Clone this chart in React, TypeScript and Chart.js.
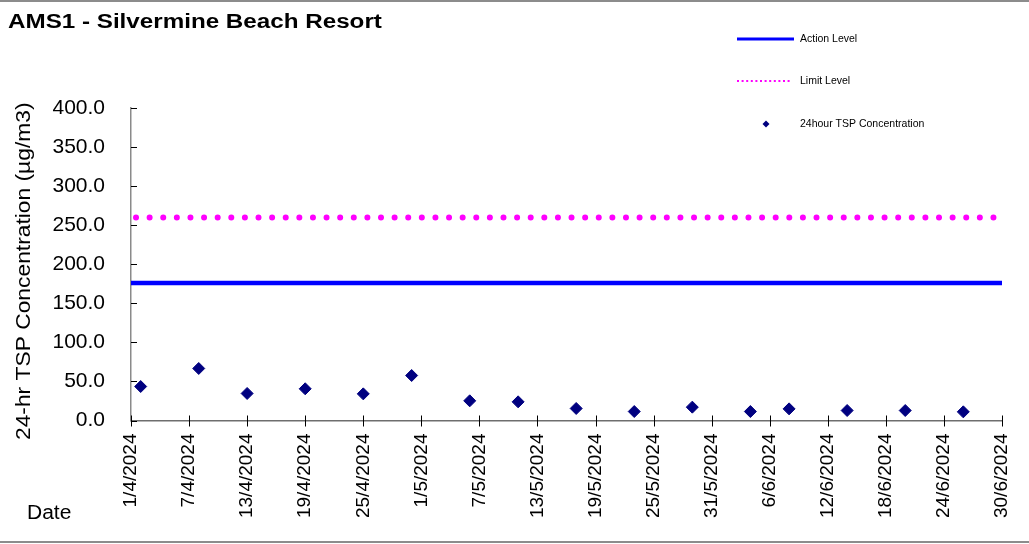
import React, { useEffect, useRef } from "react";
import { Chart, registerables } from "chart.js";

Chart.register(...registerables);

const chartTitle = "AMS1 - Silvermine Beach Resort";
const yAxisTitle = "24-hr TSP Concentration (µg/m3)";
const xAxisTitle = "Date";

const startDate = "1/4/2024";
const endDate = "30/6/2024";
const tickLabels = [
  "1/4/2024", "7/4/2024", "13/4/2024", "19/4/2024", "25/4/2024", "1/5/2024",
  "7/5/2024", "13/5/2024", "19/5/2024", "25/5/2024", "31/5/2024", "6/6/2024",
  "12/6/2024", "18/6/2024", "24/6/2024", "30/6/2024",
];
const sampleDates = [
  "2/4/2024", "8/4/2024", "13/4/2024", "19/4/2024", "25/4/2024", "30/4/2024",
  "6/5/2024", "11/5/2024", "17/5/2024", "23/5/2024", "29/5/2024", "4/6/2024",
  "8/6/2024", "14/6/2024", "20/6/2024", "26/6/2024",
];
const tspValues = [
  43.5, 66.6, 34.6, 40.6, 34.1, 57.6, 25.2, 23.9, 15.4, 11.5, 17.1, 11.5, 14.9,
  12.8, 12.8, 11.1,
];
const actionLevel = 176;
const limitLevel = 260;
const yTicks = [0, 50, 100, 150, 200, 250, 300, 350, 400];

const dayOffset = (s: string) => {
  const [d, m, y] = s.split("/").map(Number);
  const [d0, m0, y0] = startDate.split("/").map(Number);
  return Math.round((Date.UTC(y, m - 1, d) - Date.UTC(y0, m0 - 1, d0)) / 86400000);
};

const FONT = "'Liberation Sans', Arial, sans-serif";

const decorPlugin = {
  id: "decor",
  afterDraw(chart: any) {
    const ctx = chart.ctx as CanvasRenderingContext2D;
    const xs = chart.scales.x;
    const ys = chart.scales.y;
    const area = chart.chartArea;
    ctx.save();
    ctx.fillStyle = "#8c8c8c";
    ctx.fillRect(0, 0, chart.width, 2);
    ctx.fillRect(0, 541, chart.width, 2);
    ctx.fillStyle = "#000";
    ctx.save();
    ctx.translate(8, 28);
    ctx.scale(1.21, 1);
    ctx.font = `bold 20px ${FONT}`;
    ctx.textBaseline = "alphabetic";
    ctx.textAlign = "left";
    ctx.fillText(chartTitle, 0, 0);
    ctx.restore();
    ctx.save();
    ctx.translate(27, 519);
    ctx.scale(1.05, 1);
    ctx.font = `20px ${FONT}`;
    ctx.textAlign = "left";
    ctx.fillText(xAxisTitle, 0, 0);
    ctx.restore();
    ctx.save();
    ctx.translate(24, (area.top + area.bottom) / 2 + 7);
    ctx.rotate(-Math.PI / 2);
    ctx.scale(1.14, 1);
    ctx.textAlign = "center";
    ctx.textBaseline = "middle";
    ctx.font = `20px ${FONT}`;
    ctx.fillText(yAxisTitle, 0, 0);
    ctx.restore();
    ctx.strokeStyle = "#000";
    ctx.lineWidth = 1;
    xs.ticks.forEach((t: any) => {
      const px = Math.round(xs.getPixelForValue(t.value)) + 0.5;
      ctx.beginPath();
      ctx.moveTo(px, area.bottom - 5);
      ctx.lineTo(px, area.bottom + 6);
      ctx.stroke();
    });
    ys.ticks.forEach((t: any) => {
      const py = Math.round(ys.getPixelForValue(t.value)) + 0.5;
      ctx.beginPath();
      ctx.moveTo(area.left, py);
      ctx.lineTo(area.left + 6, py);
      ctx.stroke();
    });
    const ds = chart.data.datasets;
    ctx.font = `10.5px ${FONT}`;
    ctx.textAlign = "left";
    ctx.textBaseline = "middle";
    ctx.fillStyle = "#000";
    ctx.strokeStyle = ds[1].borderColor;
    ctx.lineWidth = 3;
    ctx.beginPath();
    ctx.moveTo(737, 39);
    ctx.lineTo(794, 39);
    ctx.stroke();
    ctx.fillText(ds[1].label, 800, 39.5);
    ctx.strokeStyle = ds[2].borderColor;
    ctx.lineWidth = 2;
    ctx.setLineDash([2, 2.6]);
    ctx.beginPath();
    ctx.moveTo(737, 81);
    ctx.lineTo(792, 81);
    ctx.stroke();
    ctx.setLineDash([]);
    ctx.fillText(ds[2].label, 800, 81.5);
    ctx.fillStyle = ds[0].backgroundColor;
    ctx.beginPath();
    ctx.moveTo(766, 120.5);
    ctx.lineTo(769.5, 124);
    ctx.lineTo(766, 127.5);
    ctx.lineTo(762.5, 124);
    ctx.closePath();
    ctx.fill();
    ctx.fillStyle = "#000";
    ctx.fillText(ds[0].label, 800, 124.5);
    ctx.restore();
  },
};

export default function App() {
  const ref = useRef<HTMLCanvasElement | null>(null);
  useEffect(() => {
    if (!ref.current) return;
    const xMax = dayOffset(endDate);
    const chart = new Chart(ref.current, {
      type: "scatter",
      data: {
        datasets: [
          {
            label: "24hour TSP Concentration",
            data: sampleDates.map((d, i) => ({ x: dayOffset(d), y: tspValues[i] })),
            pointStyle: "rectRot",
            pointRadius: 6,
            backgroundColor: "#000080",
            borderColor: "#000080",
            borderWidth: 1,
            showLine: false,
            order: 0,
          },
          {
            label: "Action Level",
            type: "line",
            data: [
              { x: 0, y: actionLevel },
              { x: xMax, y: actionLevel },
            ],
            borderColor: "#0000ff",
            borderWidth: 4.5,
            pointRadius: 0,
            order: 2,
          } as any,
          {
            label: "Limit Level",
            type: "line",
            data: [
              { x: 0, y: limitLevel },
              { x: xMax, y: limitLevel },
            ],
            borderColor: "#ff00ff",
            borderWidth: 6,
            borderDash: [0.01, 13.6],
            borderDashOffset: 8.6,
            borderCapStyle: "round",
            pointRadius: 0,
            order: 1,
          } as any,
        ],
      },
      options: {
        responsive: false,
        animation: false,
        layout: { padding: { top: 108, right: 27, left: 0, bottom: 0 } },
        plugins: {
          legend: { display: false },
          title: { display: false },
          tooltip: { enabled: false },
        },
        scales: {
          x: {
            type: "linear",
            min: 0,
            max: xMax,
            afterBuildTicks: (scale: any) => {
              scale.ticks = tickLabels.map((l) => ({ value: dayOffset(l) }));
            },
            afterFit: (scale: any) => {
              scale.height = 123.5;
              scale.paddingLeft = 0;
              scale.paddingRight = 0;
            },
            grid: { display: false, drawTicks: false },
            border: { display: true, color: "#6e6e6e", width: 1.5 },
            ticks: {
              autoSkip: false,
              maxRotation: 90,
              minRotation: 90,
              padding: 13,
              color: "#000",
              font: { family: FONT, size: 19 },
              callback: (v: any) => {
                const i = tickLabels.findIndex((l) => dayOffset(l) === v);
                return i >= 0 ? tickLabels[i] : "";
              },
            },
          },
          y: {
            min: 0,
            max: 400,
            afterBuildTicks: (scale: any) => {
              scale.ticks = yTicks.map((v) => ({ value: v }));
            },
            afterFit: (scale: any) => {
              scale.width = 131;
              scale.paddingTop = 0;
              scale.paddingBottom = 0;
            },
            grid: { display: false, drawTicks: false },
            border: { display: true, color: "#8a8a8a", width: 1.5 },
            ticks: {
              padding: 26,
              color: "#000",
              font: { family: FONT, size: 21 },
              callback: (v: any) => Number(v).toFixed(1),
            },
          },
        },
      },
      plugins: [decorPlugin],
    });
    return () => chart.destroy();
  }, []);
  return (
    <div style={{ position: "absolute", left: 0, top: 0, width: 1029, height: 544, background: "#fff" }}>
      <canvas ref={ref} width={1029} height={544} style={{ width: 1029, height: 544 }} />
    </div>
  );
}
